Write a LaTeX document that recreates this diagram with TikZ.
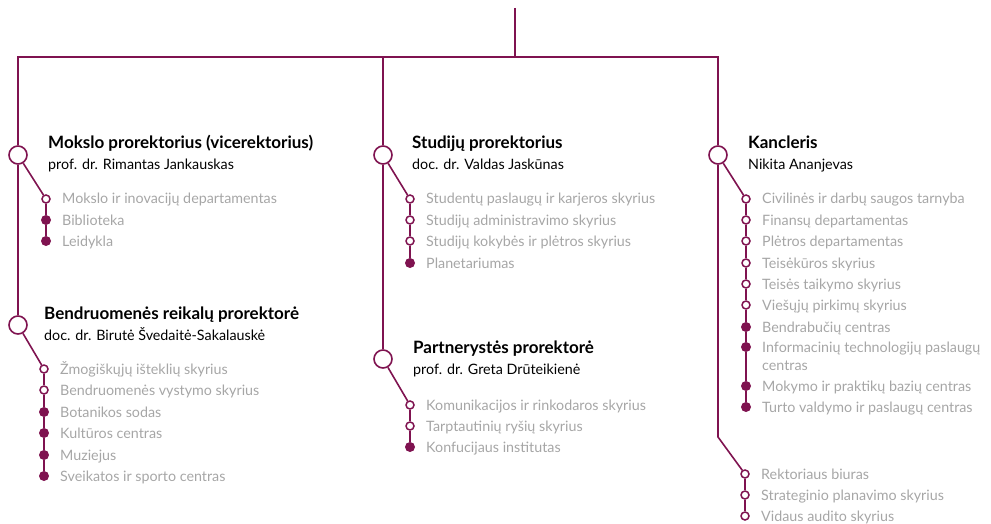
\documentclass[tikz,border=0pt]{standalone}
\usepackage{fontspec}
\setmainfont{Lato}
\usepackage{tikz}
\usetikzlibrary{positioning}
\definecolor{vuwine}{HTML}{7F1350}
\definecolor{vugrey}{HTML}{A6A6A6}
\tikzset{headdot/.style={draw=vuwine,circle,line width=1.6pt,fill=white,minimum size=18pt,inner sep=0},
    opendot/.style={draw=vuwine,circle,line width=1.5pt,fill=white,minimum size=8pt,inner sep=0},
    fulldot/.style={fill=vuwine,circle,minimum size=10pt,inner sep=0},
    link/.style={draw=vuwine,line width=1.6pt},
    titletext/.style={anchor=base west,inner sep=0,font=\fontsize{17}{18}\selectfont\bfseries},
    persontext/.style={anchor=base west,inner sep=0,font=\fontsize{14.3}{18}\selectfont},
    itemtext/.style={anchor=base west,inner sep=0,text=vugrey,font=\fontsize{14.3}{18}\selectfont}
}
\newcommand{\headunit}[6]
{
% args: (node name, x, y, x of the texts, title, person)
    \node (#1) [headdot] at (#2,#3) {};
    \node (#1title) [titletext] at (#4,#3-6) {#5};
    \node (#1person) [persontext] at (#4,#3+15) {#6};
}
\newcommand{\subunits}[3]
{
% args: (node prefix, x of the dots, list of y/kind/text)
    \foreach \y/\kind/\txt [count=\i, evaluate=\i as \j using int(\i-1)] in {#3}
    {
        \node (#1\i) [\kind] at (#2,\y) {};
        \node [itemtext] at (#2+16,\y+5) {\txt};
        \ifnum\i>1 \draw [link] (#1\j) -- (#1\i); \fi
    }
}

\begin{document}
\begin{tikzpicture}[x=1pt,y=-1pt]
\useasboundingbox (0,0) rectangle (991,524);

%% main tree
\coordinate (top) at (515,8);
\coordinate (fork) at (515,57);
\coordinate (leftend) at (18,57);
\coordinate (midend) at (383,57);
\coordinate (rightend) at (718,57);
\coordinate (bend) at (718,437);

\headunit{mokslo}{18}{155}{48}{Mokslo prorektorius (vicerektorius)}{prof. dr. Rimantas Jankauskas}
\headunit{bendr}{18}{325}{44}{Bendruomenės reikalų prorektorė}{doc. dr. Birutė Švedaitė-Sakalauskė}
\headunit{studiju}{383}{155}{412}{Studijų prorektorius}{doc. dr. Valdas Jaskūnas}
\headunit{partner}{383}{359}{413}{Partnerystės prorektorė}{prof. dr. Greta Drūteikienė}
\headunit{kanc}{718}{155}{748}{Kancleris}{Nikita Ananjevas}

\draw [link] (top) -- (fork);
\draw [link] (mokslo) -- (leftend) -- (rightend) -- (kanc);
\draw [link] (midend) -- (studiju);
\draw [link] (mokslo) -- (bendr);
\draw [link] (studiju) -- (partner);

% units under each head
\subunits{mok}{46}{199/opendot/Mokslo ir inovacijų departamentas,
    220/fulldot/Biblioteka,
    241/fulldot/Leidykla}
\subunits{ben}{44}{369/opendot/Žmogiškųjų išteklių skyrius,
    390/opendot/Bendruomenės vystymo skyrius,
    412/fulldot/Botanikos sodas,
    433/fulldot/Kultūros centras,
    455/fulldot/Muziejus,
    476/fulldot/Sveikatos ir sporto centras}
\subunits{stu}{410}{199/opendot/Studentų paslaugų ir karjeros skyrius,
    220/opendot/Studijų administravimo skyrius,
    241/opendot/Studijų kokybės ir plėtros skyrius,
    263/fulldot/Planetariumas}
\subunits{par}{410}{405/opendot/Komunikacijos ir rinkodaros skyrius,
    426/opendot/Tarptautinių ryšių skyrius,
    447/fulldot/Konfucijaus institutas}
\subunits{kan}{746}{199/opendot/Civilinės ir darbų saugos tarnyba,
    220/opendot/Finansų departamentas,
    241/opendot/Plėtros departamentas,
    263/opendot/Teisėkūros skyrius,
    284/opendot/Teisės taikymo skyrius,
    305/opendot/Viešųjų pirkimų skyrius,
    327/fulldot/Bendrabučių centras,
    347/fulldot/{\vtop{\hbox{Informacinių technologijų paslaugų}\hbox{centras}}},
    386/fulldot/Mokymo ir praktikų bazių centras,
    407/fulldot/Turto valdymo ir paslaugų centras}
\subunits{rek}{745}{474/opendot/Rektoriaus biuras,
    495/opendot/Strateginio planavimo skyrius,
    516/opendot/Vidaus audito skyrius}

% branches from heads
\draw [link] (mokslo) -- (mok1);
\draw [link] (bendr) -- (ben1);
\draw [link] (studiju) -- (stu1);
\draw [link] (partner) -- (par1);
\draw [link] (kanc) -- (kan1);
\draw [link] (kanc) -- (bend) -- (rek1);

\end{tikzpicture}
\end{document}
